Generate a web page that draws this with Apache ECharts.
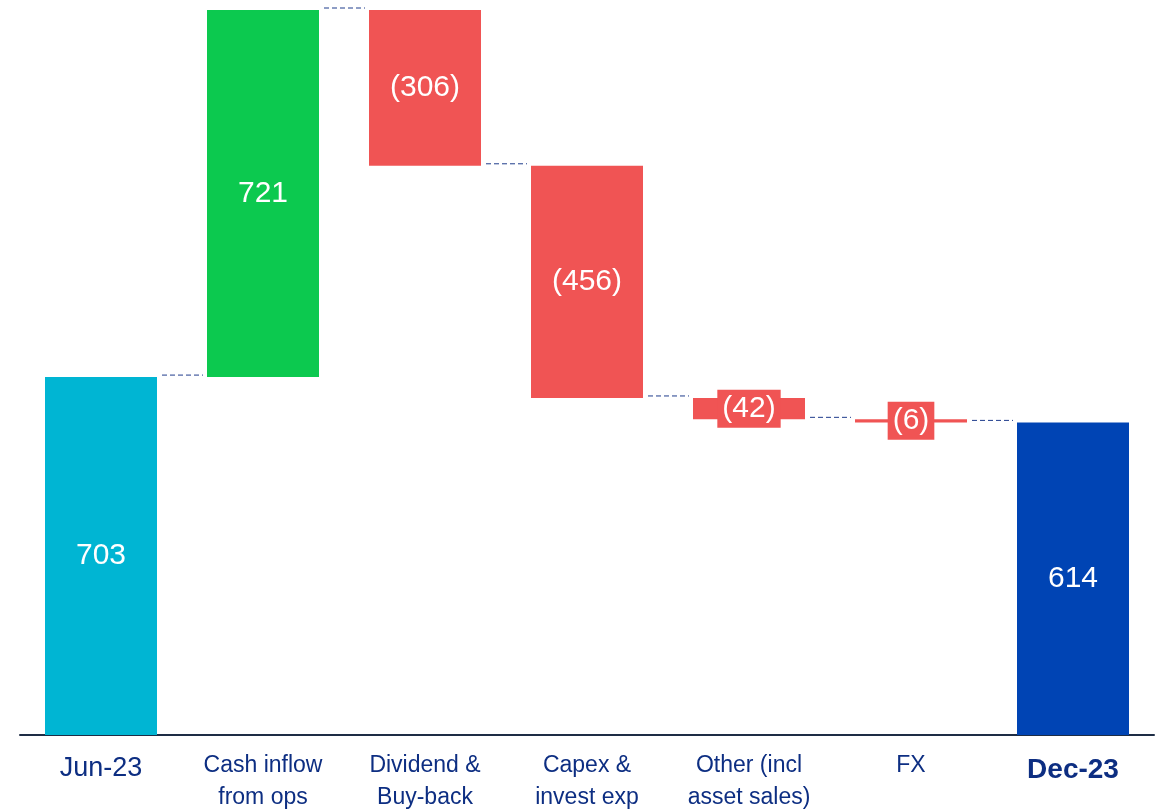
<!DOCTYPE html>
<html>
<head>
<meta charset="utf-8">
<script src="https://cdn.jsdelivr.net/npm/echarts@6/dist/echarts.min.js"></script>
<style>
  html, body { margin: 0; padding: 0; background: #fff; }
  #main { width: 1157px; height: 809px; }
</style>
</head>
<body>
<div id="main"></div>
<script>
var categories = ['Jun-23', 'Cash inflow\nfrom ops', 'Dividend &\nBuy-back', 'Capex &\ninvest exp', 'Other (incl\nasset sales)', 'FX', 'Dec-23'];
var openValue = 703;
var changes = [721, -306, -456, -42, -6];
var closeValue = 614;

var colOpen = '#00b5d3';
var colUp = '#0cc94f';
var colDown = '#f05454';
var colClose = '#0044b4';
var font = "'Liberation Sans', Arial, sans-serif";

// build the stacked pieces: invisible base + visible bar
var baseData = [0];
var barData = [{ value: openValue, raw: openValue, itemStyle: { color: colOpen } }];
var levels = [openValue];
var running = openValue;
for (var i = 0; i < changes.length; i++) {
    var d = changes[i];
    var next = running + d;
    baseData.push(Math.min(running, next));
    barData.push({ value: Math.abs(d), raw: d, itemStyle: { color: d >= 0 ? colUp : colDown } });
    running = next;
    levels.push(running);
}
baseData.push(0);
barData.push({ value: closeValue, raw: closeValue, itemStyle: { color: colClose } });

// connectors sit at the running total after each step
var connData = [];
for (var j = 0; j < levels.length; j++) {
    connData.push([j, levels[j]]);
}

var chart = echarts.init(document.getElementById('main'));

var option = {
    backgroundColor: '#fff',
    animation: false,
    grid: { left: 20, right: 3, top: 10, bottom: 74, containLabel: false, outerBoundsMode: 'none' },
    xAxis: {
        type: 'category',
        data: categories,
        axisLine: { lineStyle: { color: '#1e2d45', width: 2 } },
        axisTick: { show: false },
        axisLabel: {
            interval: 0,
            margin: 15,
            color: '#0d2e82',
            fontFamily: font,
            fontSize: 23,
            lineHeight: 32,
            formatter: function (v, idx) {
                if (idx === 0) return '{big|' + v + '}';
                if (idx === categories.length - 1) return '{bold|' + v + '}';
                return v;
            },
            rich: {
                big: { fontSize: 27, lineHeight: 38, color: '#0d2e82', fontFamily: font },
                bold: { fontSize: 28, lineHeight: 40, fontWeight: 'bold', color: '#0d2e82', fontFamily: font }
            }
        }
    },
    yAxis: {
        type: 'value',
        min: 0,
        max: 1424,
        show: false,
        splitLine: { show: false }
    },
    series: [
        {
            type: 'bar',
            stack: 'w',
            barWidth: 112,
            data: baseData,
            itemStyle: { color: 'transparent' },
            silent: true
        },
        {
            type: 'bar',
            stack: 'w',
            barWidth: 112,
            data: barData,
            label: {
                show: true,
                position: 'inside',
                offset: [0, 2],
                color: '#fff',
                fontSize: 30,
                fontFamily: font,
                formatter: function (p) {
                    var r = p.data.raw;
                    return r < 0 ? '(' + Math.abs(r) + ')' : String(r);
                }
            },
            labelLayout: function () { return { hideOverlap: false }; }
        },
        {
            type: 'custom',
            silent: true,
            z: 5,
            data: connData,
            renderItem: function (params, api) {
                var idx = api.value(0);
                if (idx >= categories.length - 1) return null;
                var lvl = api.value(1);
                var p0 = api.coord([idx, lvl]);
                var p1 = api.coord([idx + 1, lvl]);
                return {
                    type: 'line',
                    shape: { x1: p0[0] + 56 + 5, y1: p0[1] - 2, x2: p1[0] - 56 - 4, y2: p1[1] - 2 },
                    style: { stroke: '#1f3c8c', lineWidth: 1, lineDash: [5, 3] }
                };
            }
        }
    ]
};

// small bars get a boxed label so the text stays readable
option.series[1].data.forEach(function (item) {
    if (Math.abs(item.raw) < 50) {
        item.label = { backgroundColor: colDown, padding: [4, 5], lineHeight: 30 };
    }
});

chart.setOption(option);
</script>
</body>
</html>
